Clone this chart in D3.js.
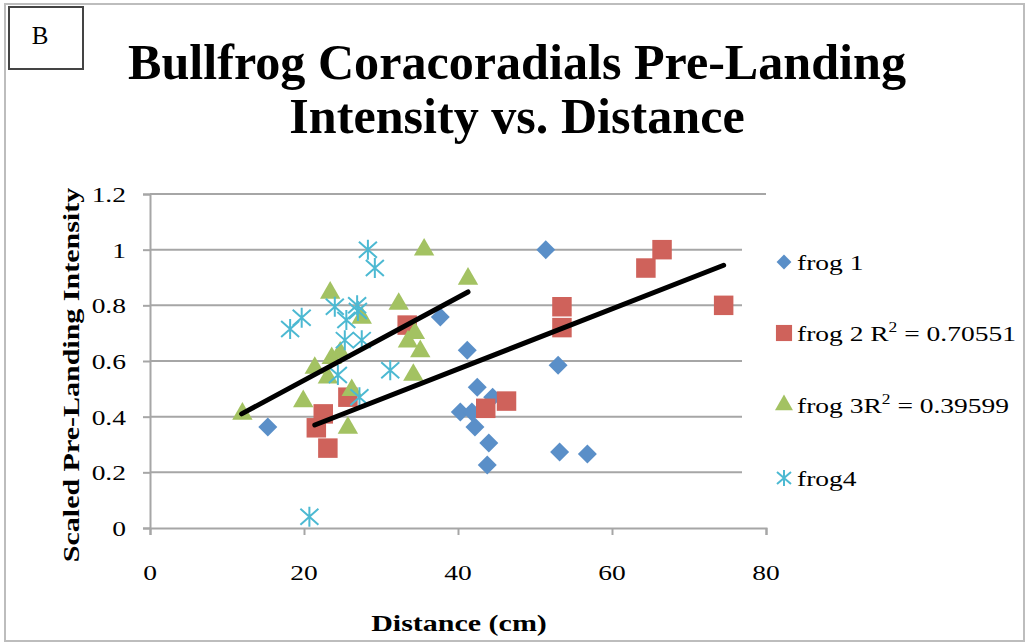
<!DOCTYPE html>
<html><head><meta charset="utf-8">
<script src="https://cdn.jsdelivr.net/npm/d3@7"></script>
<style>body{margin:0;background:#fff}</style>
</head><body>
<svg id="c" width="1029" height="644"></svg>
<script>
// ---- data ----
const xTicks = [0, 20, 40, 60, 80];
const yTicks = [0, 0.2, 0.4, 0.6, 0.8, 1, 1.2];

const frog1X = [15.3, 37.7, 41.2, 42.5, 40.3, 41.8, 44.5, 42.2, 44.0, 43.8, 51.4, 53.0, 53.2, 56.8];
const frog1Y = [0.363, 0.758, 0.639, 0.506, 0.417, 0.417, 0.47, 0.363, 0.305, 0.226, 1.0, 0.585, 0.273, 0.266];

const frog2X = [21.6, 22.5, 23.1, 25.7, 33.4, 43.6, 46.3, 53.5, 53.5, 64.4, 66.5, 74.5];
const frog2Y = [0.36, 0.41, 0.287, 0.47, 0.729, 0.43, 0.456, 0.795, 0.72, 0.934, 1.0, 0.80];

const frog3X = [12.0, 19.9, 21.4, 23.4, 23.6, 23.1, 24.7, 25.7, 26.2, 27.5, 32.3, 33.5, 34.4, 35.1, 34.2, 35.6, 41.3];
const frog3Y = [0.41, 0.455, 0.575, 0.845, 0.61, 0.54, 0.63, 0.36, 0.495, 0.755, 0.805, 0.67, 0.70, 0.635, 0.55, 1.0, 0.895];

const frog4X = [28.3, 29.2, 18.2, 19.7, 24.0, 26.9, 27.0, 25.5, 25.3, 27.5, 31.2, 24.4, 27.2, 20.7];
const frog4Y = [1.0, 0.934, 0.715, 0.755, 0.795, 0.80, 0.78, 0.747, 0.675, 0.675, 0.567, 0.55, 0.47, 0.04];

const trend2X = [21.4, 74.5], trend2Y = [0.37, 0.944];
const trend3X = [11.9, 41.3], trend3Y = [0.41, 0.848];

const seriesNames = ["frog 1", "frog 2", "frog 3", "frog4"];
const r2Labels = ["", " R", "R", ""];
const r2Values = ["", " = 0.70551", " = 0.39599", ""];

// ---- drawing ----
const svg = d3.select("#c");
const colors = ["#5a8fc8", "#cf625b", "#a3c262", "#4cb9d2"];
const serif = "'Liberation Serif', 'DejaVu Serif', serif";
const WIDE = 1.25; // horizontal stretch to mimic the wider original face

svg.append("rect").attr("x", 5).attr("y", 4).attr("width", 1019).attr("height", 637)
  .attr("fill", "#fff").attr("stroke", "#bdbdbd").attr("stroke-width", 2);

const x = d3.scaleLinear().domain([0, 80]).range([150, 766]);
const y = d3.scaleLinear().domain([0, 1.2]).range([528, 194]);

// gridlines
svg.append("g").selectAll("line").data(yTicks.filter(d => d > 0)).join("line")
  .attr("x1", x(0)).attr("x2", x(80)).attr("y1", d => y(d)).attr("y2", d => y(d))
  .attr("stroke", "#a6a6a6").attr("stroke-width", 2);

// axes
const yAxis = svg.append("g").attr("transform", `translate(${x(0)},0)`)
  .call(d3.axisLeft(y).tickValues(yTicks).tickSize(7).tickFormat(() => ""));
const xAxis = svg.append("g").attr("transform", `translate(0,${y(0)})`)
  .call(d3.axisBottom(x).tickValues(xTicks).tickSize(7).tickFormat(() => ""));
[yAxis, xAxis].forEach(g => {
  g.select(".domain").attr("stroke", "#a6a6a6").attr("stroke-width", 2);
  g.selectAll(".tick line").attr("stroke", "#a6a6a6").attr("stroke-width", 2);
});

// tick labels
svg.append("g").selectAll("g").data(yTicks).join("g")
  .attr("transform", d => `translate(126,${y(d) + 8}) scale(${WIDE},1)`)
  .append("text").attr("text-anchor", "end").attr("font-family", serif).attr("font-size", 22)
  .text(d => d3.format("")(d));
svg.append("g").selectAll("g").data(xTicks).join("g")
  .attr("transform", d => `translate(${x(d)},580) scale(${WIDE},1)`)
  .append("text").attr("text-anchor", "middle").attr("font-family", serif).attr("font-size", 22)
  .text(d => d);

// markers
const sym = [d3.symbolSquare, d3.symbolSquare, d3.symbolTriangle];
const sizes = [180, 380, 180];
const rot = [45, 0, 0];
function drawSeries(xs, ys, i, g) {
  const pts = xs.map((v, k) => [v, ys[k]]);
  if (i < 3) {
    g.selectAll(null).data(pts).join("path")
      .attr("transform", d => `translate(${x(d[0])},${y(d[1])}) rotate(${rot[i]})`)
      .attr("d", d3.symbol(sym[i], sizes[i]))
      .attr("fill", colors[i]);
  } else {
    g.selectAll(null).data(pts).join("path")
      .attr("transform", d => `translate(${x(d[0])},${y(d[1])})`)
      .attr("d", "M0,-10V10M-9,-8L9,8M-9,8L9,-8")
      .attr("stroke", colors[i]).attr("stroke-width", 2).attr("fill", "none");
  }
}
const mg = svg.append("g");
drawSeries(frog1X, frog1Y, 0, mg.append("g"));
drawSeries(frog2X, frog2Y, 1, mg.append("g"));
drawSeries(frog3X, frog3Y, 2, mg.append("g"));
drawSeries(frog4X, frog4Y, 3, mg.append("g"));

// trend lines
const line = d3.line().x(d => x(d[0])).y(d => y(d[1]));
[[trend2X, trend2Y], [trend3X, trend3Y]].forEach(([tx, ty]) => {
  svg.append("path").attr("d", line(tx.map((v, k) => [v, ty[k]])))
    .attr("stroke", "#000").attr("stroke-width", 5).attr("stroke-linecap", "round").attr("fill", "none");
});

// legend
svg.append("rect").attr("x", 742).attr("y", 228).attr("width", 280).attr("height", 282).attr("fill", "#fff");
const legY = [262, 333, 405, 478];
const lg = svg.append("g");
seriesNames.forEach((name, i) => {
  const cy = legY[i];
  if (i < 3) {
    lg.append("path").attr("transform", `translate(784,${cy}) rotate(${rot[i]})`)
      .attr("d", d3.symbol(sym[i], [110, 260, 140][i])).attr("fill", colors[i]);
  } else {
    lg.append("path").attr("transform", `translate(784,${cy})`)
      .attr("d", "M0,-8V8M-7,-6L7,6M-7,6L7,-6")
      .attr("stroke", colors[i]).attr("stroke-width", 2).attr("fill", "none");
  }
  const t = lg.append("g").attr("transform", `translate(797,${cy + 8}) scale(${WIDE},1)`)
    .append("text").attr("font-family", serif).attr("font-size", 22).attr("fill", "#000");
  t.append("tspan").text(name);
  if (r2Labels[i]) {
    t.append("tspan").text(r2Labels[i]);
    t.append("tspan").text("2").attr("font-size", 14).attr("dy", -9);
    t.append("tspan").text(r2Values[i]).attr("dy", 9);
  }
});

// titles
const title = svg.append("g").attr("font-family", serif).attr("font-weight", "bold").attr("fill", "#000")
  .attr("text-anchor", "middle");
const t1 = title.append("text").attr("x", 517).attr("y", 79).attr("font-size", 46).text("Bullfrog Coracoradials Pre-Landing");
const t2 = title.append("text").attr("x", 517).attr("y", 133).attr("font-size", 46).text("Intensity vs. Distance");
const w1 = t1.node().getComputedTextLength();
const fs = 46 * 778 / w1;
t1.attr("font-size", fs); t2.attr("font-size", fs);

svg.append("g").attr("transform", `translate(459,631) scale(${WIDE},1)`)
  .append("text").attr("text-anchor", "middle")
  .attr("font-family", serif).attr("font-weight", "bold").attr("font-size", 24).text("Distance (cm)");
svg.append("g").attr("transform", `translate(79,375) rotate(-90) scale(${WIDE},1)`)
  .append("text").attr("text-anchor", "middle")
  .attr("font-family", serif).attr("font-weight", "bold").attr("font-size", 24).text("Scaled Pre-Landing Intensity");

// panel label box
svg.append("rect").attr("x", 9).attr("y", 7).attr("width", 74).attr("height", 62)
  .attr("fill", "#fff").attr("stroke", "#444").attr("stroke-width", 2);
svg.append("text").attr("x", 40).attr("y", 44).attr("text-anchor", "middle")
  .attr("font-family", serif).attr("font-size", 25).text("B");
</script>
</body></html>
